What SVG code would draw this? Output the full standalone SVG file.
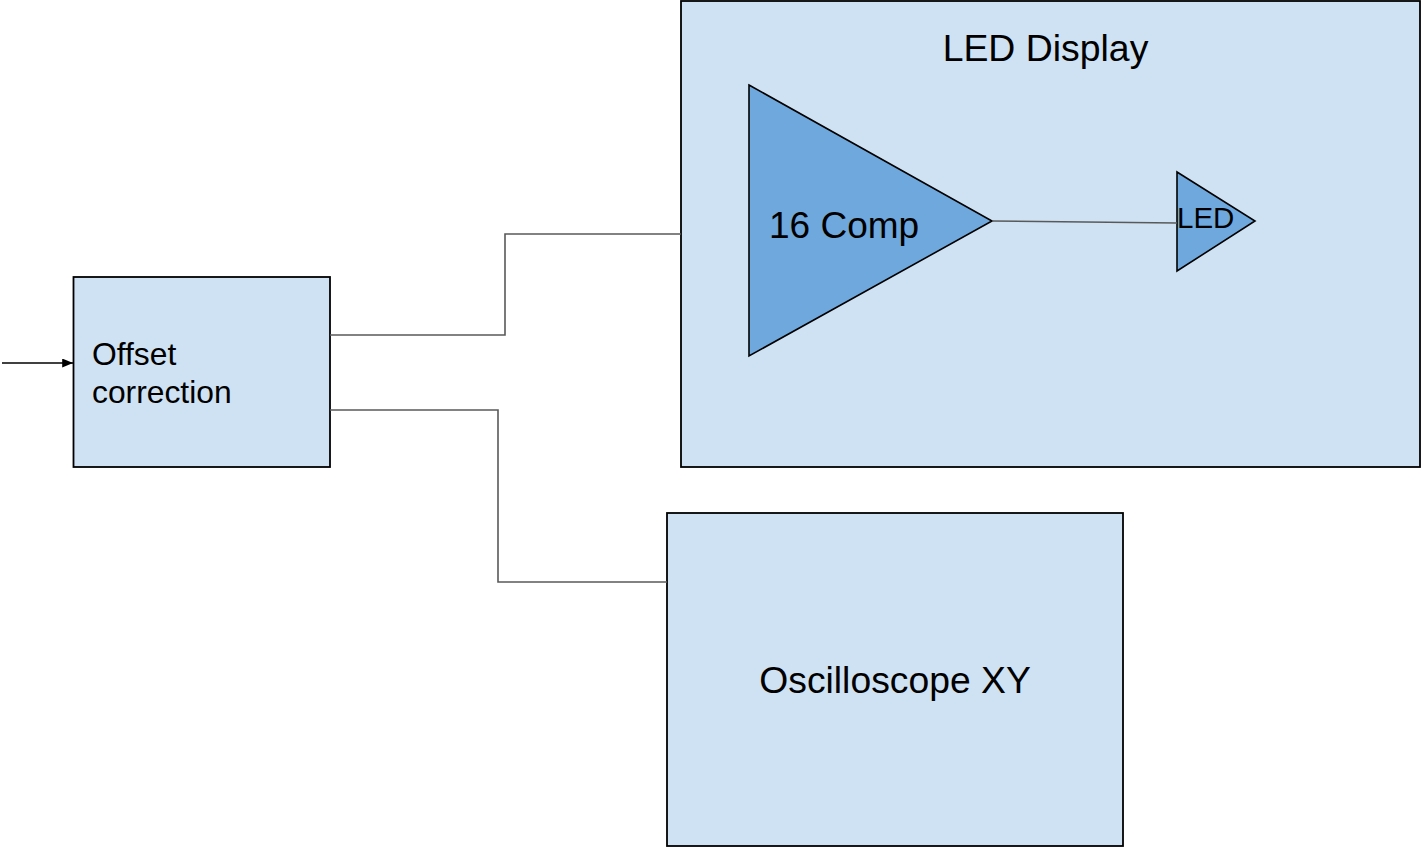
<svg xmlns="http://www.w3.org/2000/svg" width="1422" height="847" viewBox="0 0 1422 847">
<style>
.box{fill:#cfe2f3;stroke:#000;stroke-width:1.8}
.tri{fill:#6fa8dc;stroke:#000;stroke-width:1.6;stroke-linejoin:miter}
.conn{fill:none;stroke:#595959;stroke-width:1.6}
text{font-family:"Liberation Sans",Arial,sans-serif;fill:#000}
</style>
<defs>
<marker id="arr" viewBox="0 0 12 10" refX="12" refY="5" markerWidth="12" markerHeight="9" markerUnits="userSpaceOnUse" orient="auto">
<path d="M0,0 L12,5 L0,10 z" fill="#000"/>
</marker>
</defs>
<rect width="1422" height="847" fill="#fff"/>
<g id="led-display">
<rect class="box" x="681" y="1" width="739" height="466"/>
<text x="1045.5" y="61" font-size="37.4" text-anchor="middle">LED Display</text>
</g>
<g id="comp">
<polygon class="tri" points="749,85 992,221 749,356"/>
<text x="769" y="238" font-size="37">16 Comp</text>
</g>
<g id="led">
<polygon class="tri" points="1177,172 1255,221 1177,271"/>
<text x="1177" y="228" font-size="29.5">LED</text>
</g>
<g id="offset">
<rect class="box" x="73.5" y="277" width="256.5" height="190"/>
<text x="92" y="365" font-size="31.8">Offset</text>
<text x="92" y="403" font-size="31.8">correction</text>
</g>
<g id="osc">
<rect class="box" x="667" y="513" width="456" height="333"/>
<text x="895" y="693" font-size="37.3" text-anchor="middle">Oscilloscope XY</text>
</g>
<g id="connectors">
<path class="conn" d="M330,335 H505 V234 H681"/>
<path class="conn" d="M330,410 H498 V582 H667"/>
<path class="conn" d="M992,221 L1177,223"/>
<path d="M2,363 H73" fill="none" stroke="#000" stroke-width="1.6" marker-end="url(#arr)"/>
</g>
</svg>
